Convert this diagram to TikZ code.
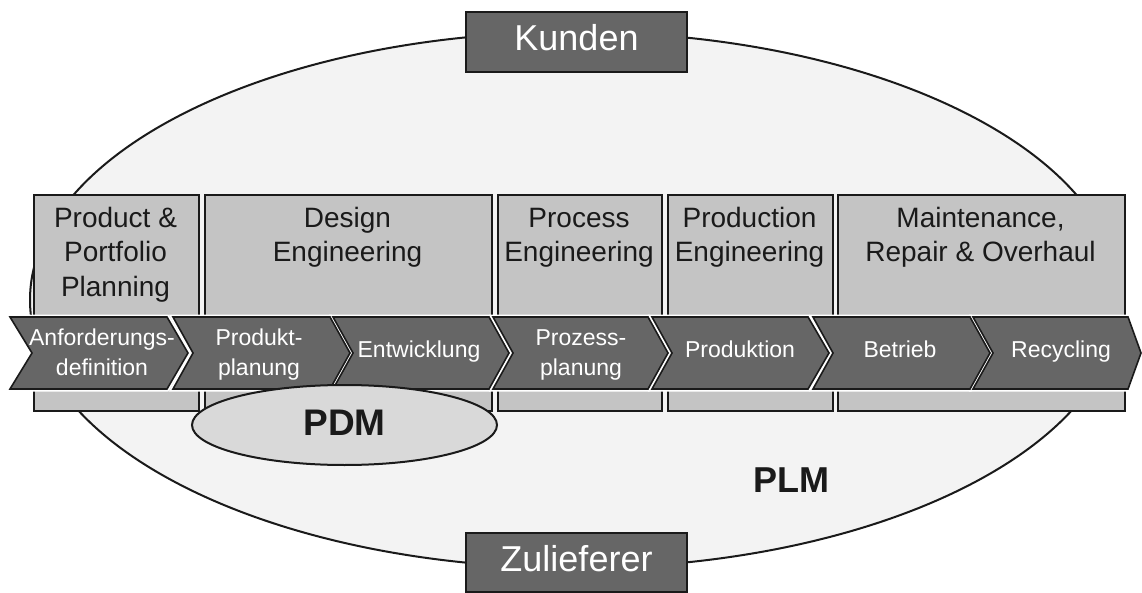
\documentclass[tikz,border=0pt]{standalone}
\usepackage{fontspec}
\setmainfont{Liberation Sans}
\usetikzlibrary{shapes.geometric}
\definecolor{edge}{HTML}{1A1A1A}
\definecolor{boxgray}{HTML}{C4C4C4}
\definecolor{chevgray}{HTML}{666666}
\definecolor{ellfill}{HTML}{F3F3F3}
\definecolor{pdmfill}{HTML}{D9D9D9}
\newcommand\chevpath[4]{(#1,317) -- ++(#2,0) -- ++(#3,36) -- ++(-#3,36) -- (#1,389) -- ++(#4,-36) -- cycle}
\begin{document}
\begin{tikzpicture}[x=1pt,y=-1pt,
  phase/.style={draw=edge, fill=boxgray, line width=2pt, anchor=north west,
    minimum height=216pt, inner sep=0pt},
  ptitle/.style={anchor=north, inner sep=0pt, align=center, text=edge,
    font=\fontsize{28}{34.5}\selectfont},
  chevtxt/.style={text=white, align=center, inner sep=0pt,
    font=\fontsize{23}{30}\selectfont},
  chev/.style={fill=chevgray, draw=edge, line width=1.6pt, line join=miter},
  chevhalo/.style={draw=white, line width=5pt, line join=miter},
  endbox/.style={draw=edge, fill=chevgray, line width=2pt, minimum width=221pt,
    minimum height=60pt, inner sep=0pt, text=white, text height=26pt, text depth=8pt,
    font=\fontsize{36}{43}\selectfont},
  bigell/.style={ellipse, draw=edge, fill=ellfill, line width=2pt, inner sep=0pt},
  boldlabel/.style={text=edge, inner sep=0pt, font=\bfseries\fontsize{36}{43}\selectfont}
]
\useasboundingbox (0,0) rectangle (1142,593);

% PLM ellipse
\node[bigell, minimum width=1090pt, minimum height=536pt] (plm) at (575,300) {};

% customers / suppliers
\node[endbox] (kunden) at (576.5,42) {Kunden};
\node[endbox, minimum height=59pt] (zulieferer) at (576.5,562.5) {Zulieferer};

% phase boxes
\node[phase, minimum width=165pt] (b1) at (33,194) {};
\node[phase, minimum width=287pt] (b2) at (204,194) {};
\node[phase, minimum width=164pt] (b3) at (497,194) {};
\node[phase, minimum width=165pt] (b4) at (667,194) {};
\node[phase, minimum width=287pt] (b5) at (837,194) {};

\node[ptitle] (t1) at (115.5,203) {\strut Product \&\\\strut Portfolio\\\strut Planning};
\node[ptitle] (t2) at (347.5,203) {\strut Design\\\strut Engineering};
\node[ptitle] (t3) at (579,203) {\strut Process\\\strut Engineering};
\node[ptitle] (t4) at (749.5,203) {\strut Production\\\strut Engineering};
\node[ptitle] (t5) at (980.5,203) {\strut Maintenance,\\\strut Repair \& Overhaul};

% chevron halos
\draw[chevhalo] \chevpath{10}{157}{21}{22};
\draw[chevhalo] \chevpath{173}{157}{20}{20};
\draw[chevhalo] \chevpath{333}{156}{20}{20};
\draw[chevhalo] \chevpath{493}{155}{20}{20};
\draw[chevhalo] \chevpath{652}{156}{21}{20};
\draw[chevhalo] \chevpath{813}{157}{20}{20};
\draw[chevhalo] \chevpath{973}{155}{13}{20};
% chevrons
\draw[chev] \chevpath{10}{157}{21}{22};
\draw[chev] \chevpath{173}{157}{20}{20};
\draw[chev] \chevpath{333}{156}{20}{20};
\draw[chev] \chevpath{493}{155}{20}{20};
\draw[chev] \chevpath{652}{156}{21}{20};
\draw[chev] \chevpath{813}{157}{20}{20};
\draw[chev] \chevpath{973}{155}{13}{20};

\node[chevtxt] (c1) at (102,354) {\strut Anforderungs-\\\strut definition};
\node[chevtxt] (c2) at (259,354) {\strut Produkt-\\\strut planung};
\node[chevtxt] (c3) at (419,351) {\strut Entwicklung};
\node[chevtxt] (c4) at (581,354) {\strut Prozess-\\\strut planung};
\node[chevtxt] (c5) at (740,351) {\strut Produktion};
\node[chevtxt] (c6) at (900,351) {\strut Betrieb};
\node[chevtxt] (c7) at (1061,351) {\strut Recycling};

% PDM
\node[ellipse, draw=edge, fill=pdmfill, line width=2pt, minimum width=305pt,
  minimum height=80pt, inner sep=0pt, text=edge, text height=20pt, text depth=0pt,
  font=\bfseries\fontsize{37}{44}\selectfont] (pdm) at (344.5,425) {PDM};

% PLM label
\node[boldlabel, anchor=base] (plmlabel) at (791,492) {PLM};
\end{tikzpicture}
\end{document}
